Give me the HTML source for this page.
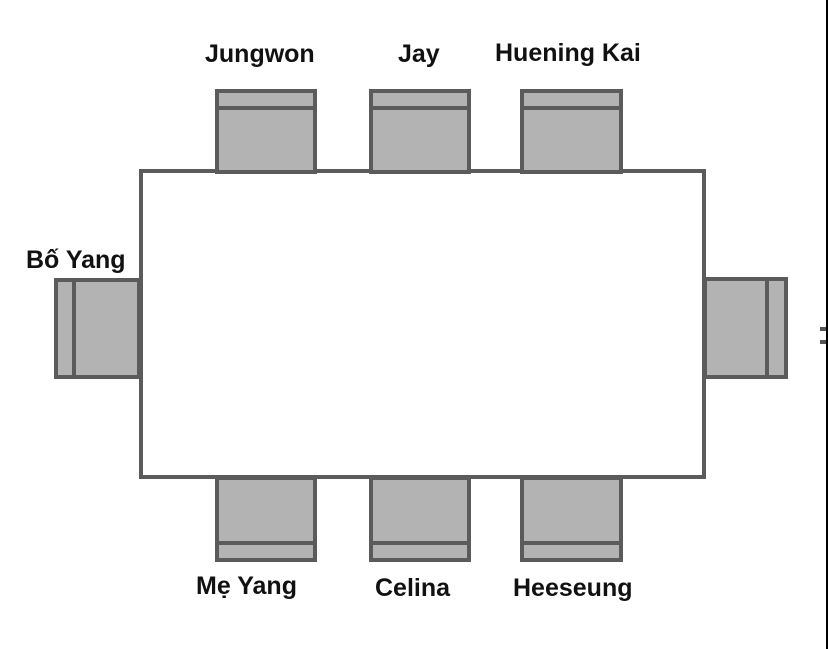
<!DOCTYPE html>
<html><head><style>
body{margin:0;width:828px;height:649px;background:#fff;overflow:hidden;position:relative;font-family:"Liberation Sans","Noto Sans CJK SC",sans-serif}
.t{position:absolute;font-size:25px;font-weight:bold;color:#111;white-space:nowrap}
</style></head><body>
<svg width="828" height="649" style="position:absolute;left:0;top:0">
<g stroke="#5b5b5b" stroke-width="4" fill="#b3b3b3">
<rect x="141" y="171" width="563" height="306" fill="#fff"/>
<rect x="217" y="91" width="98" height="81"/><line x1="217" y1="108" x2="315" y2="108"/>
<rect x="371" y="91" width="98" height="81"/><line x1="371" y1="108" x2="469" y2="108"/>
<rect x="522" y="91" width="99" height="81"/><line x1="522" y1="108" x2="621" y2="108"/>
<rect x="217" y="478" width="98" height="82"/><line x1="217" y1="543" x2="315" y2="543"/>
<rect x="371" y="478" width="98" height="82"/><line x1="371" y1="543" x2="469" y2="543"/>
<rect x="522" y="478" width="99" height="82"/><line x1="522" y1="543" x2="621" y2="543"/>
<rect x="56" y="280" width="83" height="97"/><line x1="74" y1="280" x2="74" y2="377"/>
<rect x="705" y="279" width="81" height="98"/><line x1="767" y1="279" x2="767" y2="377"/>
</g>
<line x1="827" y1="0" x2="827" y2="649" stroke="#000" stroke-width="2"/>
<rect x="820" y="327" width="6" height="4" fill="#555"/><rect x="820" y="340" width="6" height="4" fill="#555"/>
</svg>
<div class="t" style="left:205px;top:40px">Jungwon</div>
<div class="t" style="left:398px;top:40px">Jay</div>
<div class="t" style="left:495px;top:39px">Huening Kai</div>
<div class="t" style="left:26px;top:246px">Bố Yang</div>
<div class="t" style="left:196px;top:572px">Mẹ Yang</div>
<div class="t" style="left:375px;top:574px">Celina</div>
<div class="t" style="left:513px;top:574px">Heeseung</div>
</body></html>
